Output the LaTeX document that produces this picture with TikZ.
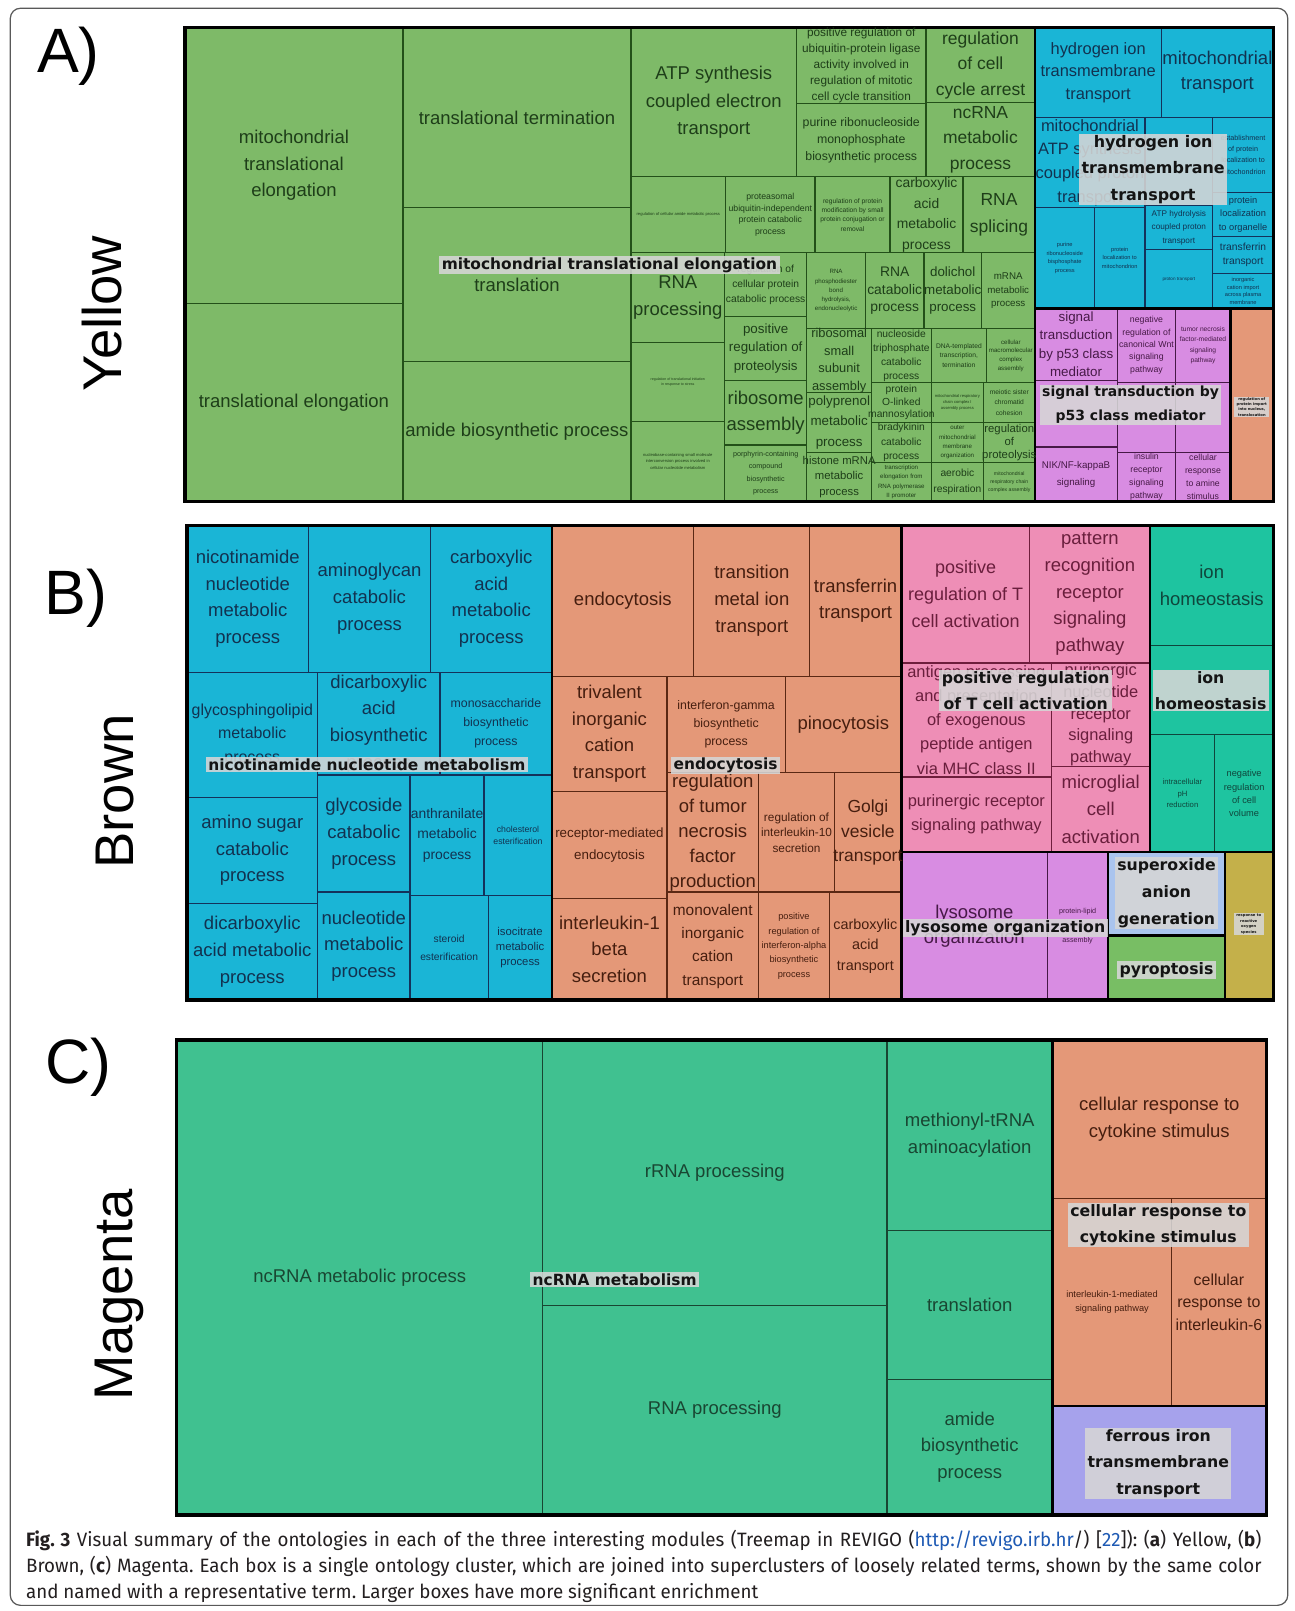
\documentclass[tikz,border=0pt]{standalone}
\usepackage{fontspec}
\setmainfont{Liberation Sans}
\newfontfamily\lblfont{DejaVu Sans}
\newfontfamily\capfont{Fira Sans}[FakeStretch=0.97]
\frenchspacing
\definecolor{gAf}{RGB}{126,186,104}\definecolor{gAl}{RGB}{35,80,25}\definecolor{gAt}{RGB}{30,62,25}
\definecolor{bAf}{RGB}{26,181,214}\definecolor{bAl}{RGB}{20,50,90}\definecolor{bAt}{RGB}{18,50,80}
\definecolor{pAf}{RGB}{216,140,226}\definecolor{pAl}{RGB}{70,25,70}\definecolor{pAt}{RGB}{70,25,70}
\definecolor{oAf}{RGB}{228,152,120}\definecolor{oAl}{RGB}{90,40,20}\definecolor{oAt}{RGB}{70,30,15}
\definecolor{pBf}{RGB}{238,142,182}\definecolor{pBl}{RGB}{110,30,60}\definecolor{pBt}{RGB}{105,30,60}
\definecolor{tBf}{RGB}{30,196,160}\definecolor{tBl}{RGB}{15,70,60}\definecolor{tBt}{RGB}{15,70,60}
\definecolor{gCf}{RGB}{64,193,144}\definecolor{gCl}{RGB}{25,70,50}\definecolor{gCt}{RGB}{25,70,50}
\definecolor{sBf}{RGB}{170,196,238}\definecolor{yBf}{RGB}{120,190,100}\definecolor{olf}{RGB}{196,176,74}
\definecolor{lvf}{RGB}{166,162,236}
\definecolor{lblgray}{RGB}{214,214,214}\definecolor{lbltext}{RGB}{20,20,20}
\definecolor{capt}{RGB}{35,31,32}\definecolor{link}{RGB}{30,90,180}
\pgfdeclarelayer{bg}\pgfdeclarelayer{mid}\pgfdeclarelayer{top}
\pgfsetlayers{bg,mid,main,top}
\tikzset{
 cell/.style={line width=0.6pt},
 txt/.style={align=center,inner sep=0pt},
 gA box/.style={fill=gAf,draw=gAl}, gA text/.style={text=gAt},
 bA box/.style={fill=bAf,draw=bAl}, bA text/.style={text=bAt},
 pA box/.style={fill=pAf,draw=pAl}, pA text/.style={text=pAt},
 oA box/.style={fill=oAf,draw=oAl}, oA text/.style={text=oAt},
 pB box/.style={fill=pBf,draw=pBl}, pB text/.style={text=pBt},
 tB box/.style={fill=tBf,draw=tBl}, tB text/.style={text=tBt},
 gC box/.style={fill=gCf,draw=gCl}, gC text/.style={text=gCt},
 sB box/.style={fill=sBf,draw=black}, sB text/.style={text=black},
 yB box/.style={fill=yBf,draw=black}, yB text/.style={text=black},
 ol box/.style={fill=olf,draw=black}, ol text/.style={text=black},
 lv box/.style={fill=lvf,draw=black}, lv text/.style={text=black},
 clus/.style={draw=black,line width=1.3pt},
 panelbox/.style={draw=black,line width=1.6pt},
 glabel/.style={fill=lblgray,fill opacity=0.88,text opacity=1,text=lbltext,inner xsep=1.2pt,inner ysep=0.6pt,align=center},
 sidelab/.style={rotate=90,anchor=base,font=\fontsize{26.5pt}{30pt}\selectfont},
 panlet/.style={anchor=base west,font=\fontsize{30.5pt}{34pt}\selectfont},
 frame/.style={draw=black!65,line width=0.6pt,rounded corners=5pt}
}
\newcommand{\tmc}[9]{%
 \begin{pgfonlayer}{bg}\draw[cell,#6 box] (#2,#3) rectangle (#4,#5);\end{pgfonlayer}%
 \pgfmathsetmacro\tmfs{#7/2}\pgfmathsetmacro\tmld{#8/2}%
 \node[txt,#6 text,font={\fontsize{\tmfs pt}{\tmld pt}\selectfont}] (#1) at ({(#2+#4)/2},{(#3+#5)/2}) {#9};}
\newcommand{\glb}[6]{%
 \pgfmathsetmacro\glfs{#4/2}\pgfmathsetmacro\glld{#5/2}%
 \begin{pgfonlayer}{top}\node[glabel,font={\lblfont\bfseries\fontsize{\glfs pt}{\glld pt}\selectfont}] (#1) at (#2,#3) {#6};\end{pgfonlayer}}
\begin{document}
\begin{tikzpicture}[x=0.5pt,y=-0.5pt]
\begin{pgfonlayer}{bg}
\fill[white] (0,0) rectangle (1260,1567.5);
\end{pgfonlayer}
\useasboundingbox (0,0) rectangle (1260,1567.5);
\draw[frame] (10,8) rectangle (1253,1562);
% ---------------- Panel A ----------------
\node[panlet] (la) at (29,71) {A)};
\node[sidelab] (sa) at (118,305) {Yellow};
\tmc{a1}{180}{27}{392}{295}{gA}{18}{26}{mitochondrial\\translational\\elongation}
\tmc{a2}{180}{295}{392}{488}{gA}{18}{26}{translational elongation}
\tmc{a3}{392}{27}{614}{202}{gA}{18}{26}{translational termination}
\tmc{a4}{392}{202}{614}{352}{gA}{18}{26}{translation}
\tmc{a5}{392}{352}{614}{488}{gA}{18}{26}{amide biosynthetic process}
\tmc{a6}{614}{27}{775}{172}{gA}{18}{27}{ATP synthesis\\coupled electron\\transport}
\tmc{a7}{775}{27}{901}{101}{gA}{11.5}{15.5}{positive regulation of\\ubiquitin-protein ligase\\activity involved in\\regulation of mitotic\\cell cycle transition}
\tmc{a8}{775}{101}{901}{172}{gA}{12}{17}{purine ribonucleoside\\monophosphate\\biosynthetic process}
\tmc{a9}{901}{27}{1007}{100}{gA}{17}{25}{regulation\\of cell\\cycle arrest}
\tmc{a10}{901}{100}{1007}{172}{gA}{17}{25}{ncRNA\\metabolic\\process}
\tmc{a11}{614}{172}{706}{246}{gA}{4}{6}{regulation of cellular amide metabolic process}
\tmc{a12}{706}{172}{793}{246}{gA}{8.5}{11.5}{proteasomal\\ubiquitin-independent\\protein catabolic\\process}
\tmc{a13}{793}{172}{866}{246}{gA}{6.5}{9}{regulation of protein\\modification by small\\protein conjugation or\\removal}
\tmc{a14}{866}{172}{937}{246}{gA}{13.5}{20}{carboxylic\\acid\\metabolic\\process}
\tmc{a15}{937}{172}{1007}{246}{gA}{17}{26}{RNA\\splicing}
\tmc{a16}{614}{246}{705}{333}{gA}{18}{26}{RNA\\processing}
\tmc{a17}{614}{333}{705}{410}{gA}{3.5}{5}{regulation of translational initiation\\in response to stress}
\tmc{a18}{614}{410}{705}{488}{gA}{4}{6}{nucleobase-containing small molecule\\interconversion process involved in\\cellular nucleotide metabolism}
\tmc{a19}{705}{246}{785}{308}{gA}{10}{14.5}{regulation of\\cellular protein\\catabolic process}
\tmc{a20}{705}{308}{785}{370}{gA}{13}{18}{positive\\regulation of\\proteolysis}
\tmc{a21}{705}{370}{785}{433}{gA}{18}{26}{ribosome\\assembly}
\tmc{a22}{705}{433}{785}{488}{gA}{7}{12}{porphyrin-containing\\compound\\biosynthetic\\process}
\tmc{a23}{785}{246}{842}{320}{gA}{6}{9}{RNA\\phosphodiester\\bond\\hydrolysis,\\endonucleolytic}
\tmc{a24}{842}{246}{899}{320}{gA}{13.5}{17}{RNA\\catabolic\\process}
\tmc{a25}{899}{246}{955}{320}{gA}{13}{17}{dolichol\\metabolic\\process}
\tmc{a26}{955}{246}{1007}{320}{gA}{9.5}{13}{mRNA\\metabolic\\process}
\tmc{a27}{785}{320}{848}{382}{gA}{12.5}{17}{ribosomal\\small\\subunit\\assembly}
\tmc{a28}{785}{382}{848}{440}{gA}{13}{20}{polyprenol\\metabolic\\process}
\tmc{a29}{785}{440}{848}{488}{gA}{11}{15}{histone mRNA\\metabolic\\process}
\tmc{a30}{848}{320}{906}{372}{gA}{10}{13.5}{nucleoside\\triphosphate\\catabolic\\process}
\tmc{a31}{906}{320}{960}{372}{gA}{6.5}{9.5}{DNA-templated\\transcription,\\termination}
\tmc{a32}{960}{320}{1007}{372}{gA}{6}{8.5}{cellular\\macromolecular\\complex\\assembly}
\tmc{a33}{848}{372}{906}{411}{gA}{10}{12.5}{protein\\O-linked\\mannosylation}
\tmc{a34}{906}{372}{957}{411}{gA}{4}{6}{mitochondrial respiratory\\chain complex I\\assembly process}
\tmc{a35}{957}{372}{1007}{411}{gA}{6.5}{10}{meiotic sister\\chromatid\\cohesion}
\tmc{a36}{848}{411}{906}{450}{gA}{10}{14}{bradykinin\\catabolic\\process}
\tmc{a37}{906}{411}{957}{450}{gA}{6}{9}{outer\\mitochondrial\\membrane\\organization}
\tmc{a38}{957}{411}{1007}{450}{gA}{11}{13}{regulation\\of\\proteolysis}
\tmc{a39}{848}{450}{906}{488}{gA}{6}{9}{transcription\\elongation from\\RNA polymerase\\II promoter}
\tmc{a40}{906}{450}{957}{488}{gA}{10}{15}{aerobic\\respiration}
\tmc{a41}{957}{450}{1007}{488}{gA}{5}{8}{mitochondrial\\respiratory chain\\complex assembly}
% blue
\tmc{b1}{1007}{27}{1130}{114}{bA}{16}{22}{hydrogen ion\\transmembrane\\transport}
\tmc{b2}{1130}{27}{1239}{114}{bA}{18}{24}{mitochondrial\\transport}
\tmc{b3}{1007}{114}{1114}{202}{bA}{16}{23}{mitochondrial\\ATP synthesis\\coupled proton\\transport}
\tmc{b4}{1114}{114}{1180}{200}{bA}{8}{12}{}
\tmc{b5}{1180}{114}{1239}{187}{bA}{7}{11}{establishment\\of protein\\localization to\\mitochondrion}
\tmc{b6}{1180}{187}{1239}{230}{bA}{9}{13}{protein\\localization\\to organelle}
\tmc{b7}{1180}{230}{1239}{266}{bA}{10}{14}{transferrin\\transport}
\tmc{b8}{1180}{266}{1239}{300}{bA}{5.5}{7.5}{inorganic\\cation import\\across plasma\\membrane}
\tmc{b9}{1114}{200}{1180}{243}{bA}{8}{13}{ATP hydrolysis\\coupled proton\\transport}
\tmc{b10}{1114}{243}{1180}{300}{bA}{4.5}{6}{proton transport}
\tmc{b11}{1007}{202}{1065}{300}{bA}{5.5}{8.5}{purine\\ribonucleoside\\bisphosphate\\process}
\tmc{b12}{1065}{202}{1114}{300}{bA}{5.5}{8.5}{protein\\localization to\\mitochondrion}
% pink
\tmc{p1}{1007}{300}{1087}{370}{pA}{13}{18}{signal\\transduction\\by p53 class\\mediator}
\tmc{p2}{1087}{300}{1144}{372}{pA}{8.5}{12}{negative\\regulation of\\canonical Wnt\\signaling\\pathway}
\tmc{p3}{1144}{300}{1197}{372}{pA}{6.5}{10}{tumor necrosis\\factor-mediated\\signaling\\pathway}
\tmc{p4}{1007}{370}{1087}{435}{pA}{8}{12}{}
\tmc{p5}{1087}{372}{1144}{440}{pA}{8}{12}{}
\tmc{p6}{1144}{372}{1197}{440}{pA}{8}{12}{}
\tmc{p7}{1007}{435}{1087}{488}{pA}{9.5}{16}{NIK/NF-kappaB\\signaling}
\tmc{p8}{1087}{440}{1144}{488}{pA}{8.5}{12.5}{insulin\\receptor\\signaling\\pathway}
\tmc{p9}{1144}{440}{1197}{488}{pA}{8.5}{12.5}{cellular\\response\\to amine\\stimulus}
\tmc{o1}{1197}{300}{1239}{488}{oA}{8}{12}{}
\begin{pgfonlayer}{mid}
\draw[clus] (1007,27) -- (1007,488);
\draw[clus] (1007,300) -- (1239,300);
\draw[clus] (1197,300) -- (1197,488);
\draw[panelbox] (180,27) rectangle (1239,488);
\end{pgfonlayer}
\glb{ga1}{593}{258}{15}{20}{mitochondrial translational elongation}
\glb{ga2}{1122}{165}{15.5}{26}{hydrogen ion\\transmembrane\\transport}
\glb{ga3}{1100}{394}{13.6}{23}{signal transduction by\\p53 class mediator}
\glb{ga4}{1218}{396}{3.6}{5}{regulation of\\protein import\\into nucleus,\\translocation}
% ---------------- Panel B ----------------
\node[panlet] (lb) at (36,598) {B)};
\node[sidelab] (sb) at (130,770) {Brown};
\tmc{c1}{182}{511}{300}{654}{bA}{18}{26}{nicotinamide\\nucleotide\\metabolic\\process}
\tmc{c2}{300}{511}{419}{654}{bA}{18}{26}{aminoglycan\\catabolic\\process}
\tmc{c3}{419}{511}{537}{654}{bA}{18}{26}{carboxylic\\acid\\metabolic\\process}
\tmc{c4}{182}{654}{309}{776}{bA}{15.5}{23}{glycosphingolipid\\metabolic\\process}
\tmc{c5}{309}{654}{428}{754}{bA}{18}{26}{dicarboxylic\\acid\\biosynthetic\\process}
\tmc{c6}{428}{654}{537}{754}{bA}{12}{18.5}{monosaccharide\\biosynthetic\\process}
\tmc{c7}{182}{776}{309}{879}{bA}{18}{26}{amino sugar\\catabolic\\process}
\tmc{c8}{309}{754}{399}{868}{bA}{18}{26}{glycoside\\catabolic\\process}
\tmc{c9}{399}{754}{471}{871}{bA}{13.5}{20}{anthranilate\\metabolic\\process}
\tmc{c10}{471}{754}{537}{871}{bA}{8.5}{12}{cholesterol\\esterification}
\tmc{c11}{182}{879}{309}{973}{bA}{18}{26}{dicarboxylic\\acid metabolic\\process}
\tmc{c12}{309}{868}{399}{973}{bA}{18}{26}{nucleotide\\metabolic\\process}
\tmc{c13}{399}{871}{475}{973}{bA}{10}{17}{steroid\\esterification}
\tmc{c14}{475}{871}{537}{973}{bA}{11}{15}{isocitrate\\metabolic\\process}
\tmc{d1}{537}{511}{675}{658}{oA}{18}{26}{endocytosis}
\tmc{d2}{675}{511}{788}{658}{oA}{18}{26}{transition\\metal ion\\transport}
\tmc{d3}{788}{511}{877}{658}{oA}{18}{26}{transferrin\\transport}
\tmc{d4}{537}{658}{649}{770}{oA}{18}{26}{trivalent\\inorganic\\cation\\transport}
\tmc{d5}{649}{658}{764}{752}{oA}{12}{17.5}{interferon-gamma\\biosynthetic\\process}
\tmc{d6}{764}{658}{877}{752}{oA}{18}{26}{pinocytosis}
\tmc{d7}{537}{770}{649}{874}{oA}{13}{21}{receptor-mediated\\endocytosis}
\tmc{d8}{649}{752}{738}{868}{oA}{18}{24.3}{regulation\\of tumor\\necrosis\\factor\\production}
\tmc{d9}{738}{752}{812}{868}{oA}{11.5}{15}{regulation of\\interleukin-10\\secretion}
\tmc{d10}{812}{752}{877}{868}{oA}{17}{24}{Golgi\\vesicle\\transport}
\tmc{d11}{537}{874}{649}{973}{oA}{18}{26}{interleukin-1\\beta\\secretion}
\tmc{d12}{649}{868}{738}{973}{oA}{15}{22.7}{monovalent\\inorganic\\cation\\transport}
\tmc{d13}{738}{868}{807}{973}{oA}{9}{14}{positive\\regulation of\\interferon-alpha\\biosynthetic\\process}
\tmc{d14}{807}{868}{877}{973}{oA}{14}{20}{carboxylic\\acid\\transport}
\tmc{e1}{877}{511}{1002}{645}{pB}{17.5}{26.5}{positive\\regulation of T\\cell activation}
\tmc{e2}{1002}{511}{1119}{645}{pB}{18}{26}{pattern\\recognition\\receptor\\signaling\\pathway}
\tmc{e3}{877}{645}{1023}{756}{pB}{16}{23.5}{antigen processing\\and presentation\\of exogenous\\peptide antigen\\via MHC class II}
\tmc{e4}{1023}{645}{1119}{746}{pB}{16}{21.3}{purinergic\\nucleotide\\receptor\\signaling\\pathway}
\tmc{e5}{877}{756}{1023}{829}{pB}{16}{23}{purinergic receptor\\signaling pathway}
\tmc{e6}{1023}{746}{1119}{829}{pB}{18}{27}{microglial\\cell\\activation}
\tmc{f1}{877}{829}{1019}{973}{pA}{18}{24}{lysosome\\organization}
\tmc{f2}{1019}{829}{1078}{973}{pA}{7}{14}{protein-lipid\\complex\\assembly}
\tmc{s1}{1078}{829}{1192}{910}{sB}{8}{12}{}
\tmc{s2}{1078}{910}{1192}{973}{yB}{8}{12}{}
\tmc{s3}{1192}{829}{1239}{973}{ol}{8}{12}{}
\tmc{g1}{1119}{511}{1239}{628}{tB}{18}{26}{ion\\homeostasis}
\tmc{g2}{1119}{628}{1239}{715}{tB}{8}{12}{}
\tmc{g3}{1119}{715}{1182}{829}{tB}{7.5}{11}{intracellular\\pH\\reduction}
\tmc{g4}{1182}{715}{1239}{829}{tB}{9}{13}{negative\\regulation\\of cell\\volume}
\begin{pgfonlayer}{mid}
\draw[clus] (537,511) -- (537,973);
\draw[clus] (877,511) -- (877,973);
\draw[clus] (1119,511) -- (1119,829);
\draw[clus] (877,829) -- (1239,829);
\draw[clus] (1078,829) -- (1078,973);
\draw[clus] (1192,829) -- (1192,973);
\draw[clus] (1078,910) -- (1192,910);
\draw[panelbox] (182,511) rectangle (1239,973);
\end{pgfonlayer}
\glb{gb1}{357}{744}{15}{20}{nicotinamide nucleotide metabolism}
\glb{gb2}{706}{745}{15}{20}{endocytosis}
\glb{gb3}{998}{672}{15.3}{25}{positive regulation\\of T cell activation}
\glb{gb4}{1178}{672}{15.3}{26}{ion\\homeostasis}
\glb{gb5}{978}{903}{15.3}{20}{lysosome organization}
\glb{gb6}{1135}{869}{15.3}{26}{superoxide\\anion\\generation}
\glb{gb7}{1135}{944}{15.3}{20}{pyroptosis}
\glb{gb8}{1215}{899}{3.6}{5.5}{response to\\reactive\\oxygen\\species}
% ---------------- Panel C ----------------
\node[panlet] (lc) at (37,1054) {C)};
\node[sidelab] (sc) at (129,1260) {Magenta};
\tmc{h1}{172}{1012}{528}{1474}{gC}{18}{26}{ncRNA metabolic process}
\tmc{h2}{528}{1012}{863}{1270}{gC}{18}{26}{rRNA processing}
\tmc{h3}{528}{1270}{863}{1474}{gC}{18}{26}{RNA processing}
\tmc{h4}{863}{1012}{1024}{1197}{gC}{18}{26}{methionyl-tRNA\\aminoacylation}
\tmc{h5}{863}{1197}{1024}{1342}{gC}{18}{26}{translation}
\tmc{h6}{863}{1342}{1024}{1474}{gC}{18}{26}{amide\\biosynthetic\\process}
\tmc{i1}{1024}{1012}{1232}{1166}{oA}{18}{27}{cellular response to\\cytokine stimulus}
\tmc{i2}{1024}{1166}{1140}{1368}{oA}{9}{13.5}{interleukin-1-mediated\\signaling pathway}
\tmc{i3}{1140}{1166}{1232}{1368}{oA}{15.5}{22}{cellular\\response to\\interleukin-6}
\tmc{j1}{1024}{1368}{1232}{1474}{lv}{8}{12}{}
\begin{pgfonlayer}{mid}
\draw[clus] (1024,1012) -- (1024,1474);
\draw[clus] (1024,1368) -- (1232,1368);
\draw[panelbox] (172,1012) rectangle (1232,1474);
\end{pgfonlayer}
\glb{gc1}{598}{1245}{15}{20}{ncRNA metabolism}
\glb{gc2}{1127}{1192}{15.3}{26}{cellular response to\\cytokine stimulus}
\glb{gc3}{1127}{1424}{15.3}{26}{ferrous iron\\transmembrane\\transport}
% ---------------- Caption ----------------
\node[anchor=base west,text width=601pt,align=justify,inner sep=0pt,text=capt,
 font={\capfont\fontsize{9.4pt}{12.7pt}\selectfont}] (cap) at (25,1505)
 {\textbf{Fig.\ 3} Visual summary of the ontologies in each of the three interesting modules (Treemap in REVIGO (\textcolor{link}{http://revigo.irb.hr}/) [\textcolor{link}{22}]): (\textbf{a}) Yellow, (\textbf{b})\linebreak Brown, (\textbf{c}) Magenta. Each box is a single ontology cluster, which are joined into superclusters of loosely related terms, shown by the same color\linebreak and named with a representative term. Larger boxes have more significant enrichment\par};
\end{tikzpicture}
\end{document}
